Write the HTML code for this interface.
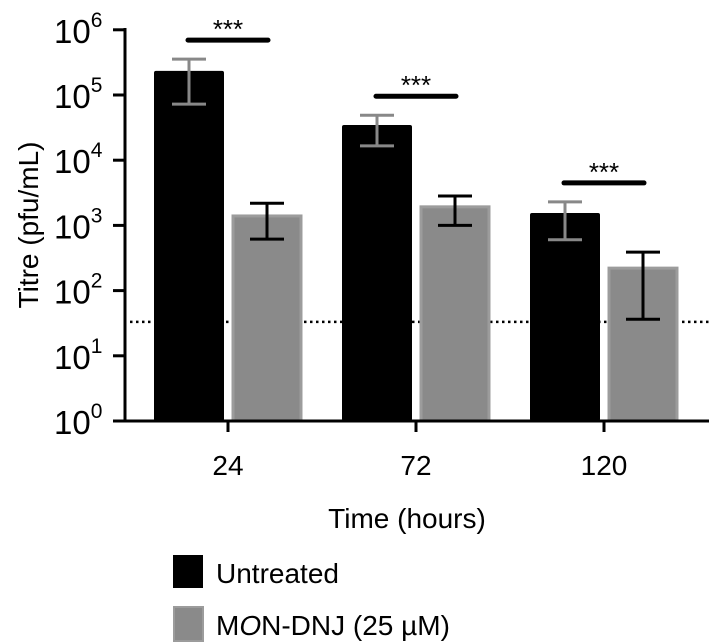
<!DOCTYPE html>
<html><head><meta charset="utf-8"><style>
body{margin:0;background:#fff}
svg{display:block;font-family:"Liberation Sans",sans-serif}
</style></head><body>
<svg id="chart" width="709" height="643">
<g id="g"></g>
<text x="38" y="225" transform="rotate(-90 38 225)" text-anchor="middle" font-size="28">Titre (pfu/mL)</text>
<text x="407" y="528" text-anchor="middle" font-size="28">Time (hours)</text>
<g>
<rect x="173" y="555" width="30" height="33" fill="#000"/>
<text x="216" y="583" font-size="28">Untreated</text>
</g>
<g>
<rect x="174" y="607" width="29" height="34" fill="#8a8a8a" stroke="#9c9c9c" stroke-width="2"/>
<text x="216" y="635" font-size="28">M<tspan font-style="italic">O</tspan>N-DNJ (25 µM)</text>
</g>
</svg>
<script>
const categories=["24","72","120"];
const untreated=[5.37,4.54,3.19];
const untreatedLo=[4.86,4.22,2.78];
const untreatedHi=[5.55,4.69,3.36];
const treated=[3.16,3.30,2.36];
const treatedLo=[2.79,3.00,1.56];
const treatedHi=[3.34,3.45,2.59];
const yTicks=[0,1,2,3,4,5,6];
const detectionLimit=1.52;
const sigLabels=["***","***","***"];

const NS="http://www.w3.org/2000/svg";
const g=document.getElementById('g');
const y0=421,dec=65.2;
const y=v=>y0-v*dec;
const cx=i=>228+i*188;
function el(t,a,p){const e=document.createElementNS(NS,t);for(const k in a)e.setAttribute(k,a[k]);(p||g).appendChild(e);return e;}

let dl=el('line',{x1:130,x2:709,y1:y(detectionLimit),y2:y(detectionLimit),stroke:'#000','stroke-width':2.5,'stroke-dasharray':'2.5 3.5'});



categories.forEach((c,i)=>{
  const b=el('rect',{x:cx(i)-74,y:y(untreated[i]),width:70,height:y0-y(untreated[i]),fill:'#000',rx:2});
  
  
  const t=el('rect',{x:cx(i)+5,y:y(treated[i])+1,width:68,height:y0-y(treated[i])-1,fill:'#8a8a8a',stroke:'#9c9c9c','stroke-width':3});
  
  
  [[cx(i)-39,untreatedLo[i],untreatedHi[i],'#888'],[cx(i)+39,treatedLo[i],treatedHi[i],'#000']].forEach(([x,lo,hi,col],k)=>{
    const e=el('g',{});
    
    
    el('line',{x1:x,x2:x,y1:y(hi),y2:y(lo),stroke:col,'stroke-width':3},e);
    el('line',{x1:x-17,x2:x+17,y1:y(hi),y2:y(hi),stroke:col,'stroke-width':3},e);
    el('line',{x1:x-17,x2:x+17,y1:y(lo),y2:y(lo),stroke:col,'stroke-width':3},e);
  });
  const sy=y(Math.max(untreatedHi[i],treatedHi[i]))-19;
  const s=el('line',{x1:cx(i)-40,x2:cx(i)+40,y1:sy,y2:sy,stroke:'#000','stroke-width':5,'stroke-linecap':'round'});
  
  
  const st=el('text',{x:cx(i),y:sy-2,'text-anchor':'middle','font-size':26});
  st.textContent=sigLabels[i];
  
  
  el('line',{x1:cx(i),x2:cx(i),y1:y0,y2:432,stroke:'#000','stroke-width':3});
  const xl=el('text',{x:cx(i),y:475,'text-anchor':'middle','font-size':28});
  xl.textContent=c;
  
  
});

let ya=el('line',{x1:125,x2:125,y1:28,y2:422,stroke:'#000','stroke-width':3});


let xa=el('line',{x1:113,x2:709,y1:y0,y2:y0,stroke:'#000','stroke-width':3});


yTicks.forEach(v=>{
  el('line',{x1:113,x2:125,y1:y(v),y2:y(v),stroke:'#000','stroke-width':3});
  const t=el('text',{x:54,y:y(v)+13,'font-size':33});
  
  
  t.textContent='10';
  const sp=el('tspan',{dy:-16,'font-size':21},t);
  sp.textContent=String(v);
});
</script>
</body></html>
